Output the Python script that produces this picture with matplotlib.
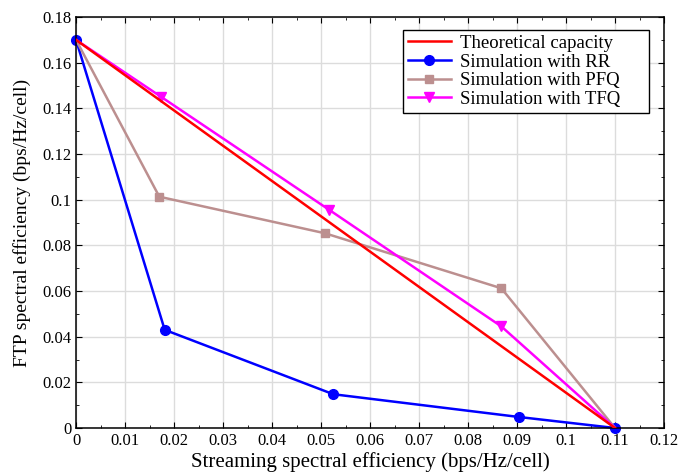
import matplotlib
matplotlib.use('Agg')
import matplotlib.pyplot as plt
from matplotlib.ticker import MultipleLocator, FuncFormatter

# data
theo_x = [0.0, 0.110]
theo_y = [0.170, 0.0]

rr_x = [0.0, 0.0181, 0.0525, 0.0905, 0.110]
rr_y = [0.170, 0.0430, 0.0148, 0.0048, 0.0]

pfq_x = [0.0, 0.0170, 0.0508, 0.0868, 0.110]
pfq_y = [0.170, 0.1013, 0.0853, 0.0612, 0.0]

tfq_x = [0.0, 0.0174, 0.0517, 0.0868, 0.110]
tfq_y = [0.170, 0.1450, 0.0955, 0.0445, 0.0]

plt.rcParams['font.family'] = ['Liberation Serif', 'DejaVu Serif']

fig = plt.figure(figsize=(6.8, 4.73), dpi=100)
ax = fig.add_axes([0.1118, 0.0951, 0.8647, 0.8689])

ax.plot(rr_x, rr_y, color='blue', lw=1.8, marker='o', ms=7, label='Simulation with RR',
        zorder=2, clip_on=False)
ax.plot(pfq_x, pfq_y, color='#bc8f8f', lw=1.8, marker='s', ms=6, markevery=[1, 2, 3],
        label='Simulation with PFQ', zorder=2)
ax.plot(tfq_x, tfq_y, color='magenta', lw=1.8, marker='v', ms=7, markevery=[1, 2, 3],
        label='Simulation with TFQ', zorder=2)
ax.plot(theo_x, theo_y, color='red', lw=1.8, label='Theoretical capacity', zorder=3)

ax.set_xlim(0, 0.12)
ax.set_ylim(0, 0.18)
ax.xaxis.set_major_locator(MultipleLocator(0.01))
ax.xaxis.set_minor_locator(MultipleLocator(0.005))
ax.yaxis.set_major_locator(MultipleLocator(0.02))
ax.yaxis.set_minor_locator(MultipleLocator(0.01))
fmt = FuncFormatter(lambda v, p: '%g' % round(v, 4))
ax.xaxis.set_major_formatter(fmt)
ax.yaxis.set_major_formatter(fmt)
ax.tick_params(which='both', direction='in', top=True, right=True, labelsize=12)
ax.tick_params(which='major', length=4)
ax.tick_params(which='minor', length=2)
ax.grid(True, which='major', color='#dcdcdc', lw=1.0)
ax.set_axisbelow(True)
for s in ax.spines.values():
    s.set_linewidth(1.1)

ax.set_xlabel('Streaming spectral efficiency (bps/Hz/cell)', fontsize=15, labelpad=2)
ax.set_ylabel('FTP spectral efficiency (bps/Hz/cell)', fontsize=14, labelpad=8)

# legend order as in the reference
h, l = ax.get_legend_handles_labels()
order = [3, 0, 1, 2]
leg = ax.legend([h[i] for i in order], [l[i] for i in order],
                loc='upper left', bbox_to_anchor=(0.556, 0.968, 0.418, 0.0),
                mode='expand', fontsize=13.5,
                fancybox=False, edgecolor='black', framealpha=1,
                handlelength=2.3, borderpad=0.25, labelspacing=0.08,
                handletextpad=0.5, borderaxespad=0)
leg.get_frame().set_linewidth(1.0)

fig.savefig('out.png', dpi=100)
